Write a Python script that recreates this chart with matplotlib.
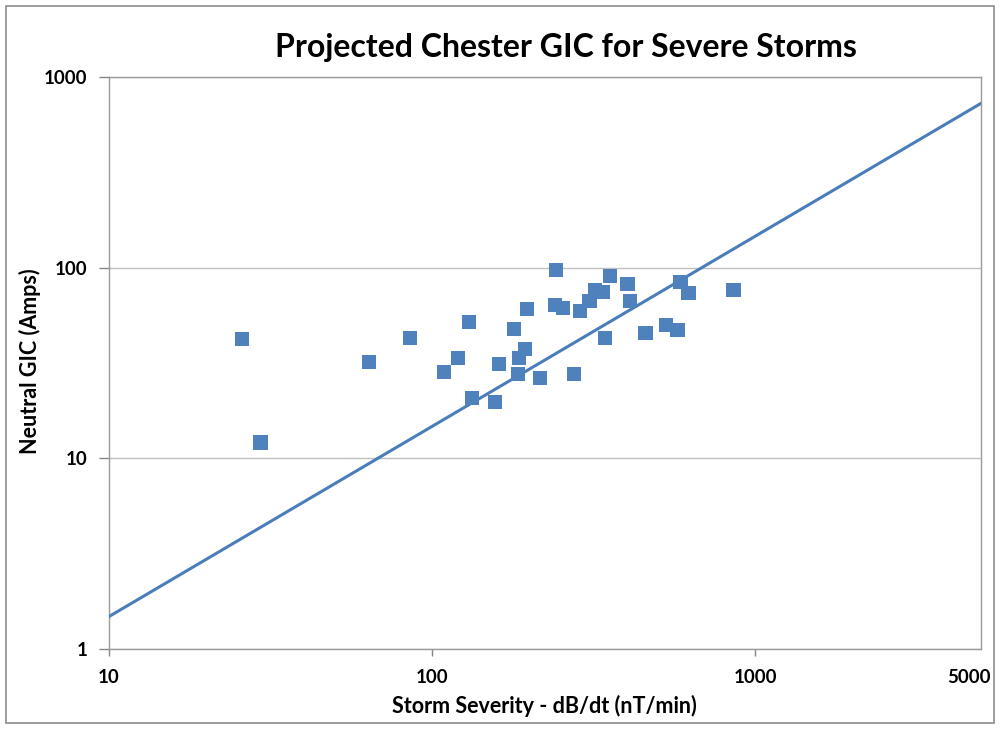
import matplotlib
matplotlib.use("Agg")
import matplotlib.pyplot as plt
import matplotlib.transforms as mtransforms
from matplotlib.patches import Rectangle

# Data
storm_dbdt = [25.9, 29.5, 63.9, 85.7, 109, 120.5, 130.4, 133.3, 157, 161.5,
              179.6, 184.8, 186, 194, 196.9, 216, 242, 240.5, 254.6, 275.4,
              287, 308, 319.7, 338, 355.6, 343, 403.6, 410, 459, 529.6,
              576.6, 589, 623.6, 859]
neutral_gic = [42.3, 12.1, 32.0, 42.8, 28.4, 33.6, 51.8, 20.7, 19.8, 31.3,
               47.6, 27.7, 33.6, 37.5, 60.7, 26.4, 97.2, 63.7, 61.4, 27.7,
               59.3, 66.9, 76.3, 74.5, 90.3, 42.8, 82.0, 66.9, 45.4, 50.0,
               47.1, 84.0, 73.6, 76.3]
projection_x = [10, 5000]
projection_y = [1.48, 725]

x_ticks = [10, 100, 1000, 5000]
x_tick_labels = ["10", "100", "1000", "5000"]
y_ticks = [1, 10, 100, 1000]
y_tick_labels = ["1", "10", "100", "1000"]

plt.rcParams['font.family'] = ['Lato', 'DejaVu Sans']

fig = plt.figure(figsize=(10, 7.29), dpi=100)
ax = fig.add_axes([0.1085, 0.1093, 0.981 - 0.1085, 0.8948 - 0.1093])

blue = "#4F81BD"
ax.plot(projection_x, projection_y, color="#4A7EBB", lw=2.2, zorder=3)
ax.scatter(storm_dbdt, neutral_gic, marker="s", s=110, color=blue,
           edgecolors="none", zorder=4)

ax.set_xscale("log")
ax.set_yscale("log")
ax.set_xlim(10, 5000)
ax.set_ylim(1, 1000)

ax.set_xticks(x_ticks)
ax.set_xticklabels(x_tick_labels)
ax.set_yticks(y_ticks)
ax.set_yticklabels(y_tick_labels)
ax.minorticks_off()
ax.tick_params(axis="x", direction="out", length=5, width=1, color="#868686",
               pad=9, labelsize=13.5)
ax.tick_params(axis="y", direction="out", length=7, width=1, color="#868686",
               pad=8, labelsize=13.5)
for lab in ax.get_xticklabels() + ax.get_yticklabels():
    lab.set_fontweight("bold")

# shift the last x label left so it stays inside the chart frame
last = ax.get_xticklabels()[-1]
last.set_transform(last.get_transform() +
                   mtransforms.ScaledTranslation(-12 / 100, 0, fig.dpi_scale_trans))
ax.get_xticklines()[-2].set_visible(False)

ax.yaxis.grid(True, color="#BFBFBF", lw=1)
ax.xaxis.grid(False)
ax.set_axisbelow(True)
for sp in ax.spines.values():
    sp.set_color("#9A9A9A")
    sp.set_linewidth(1)

ax.set_xlabel("Storm Severity - dB/dt (nT/min)", fontsize=15.5, fontweight="bold",
              va="center")
ax.xaxis.set_label_coords(0.5, -0.099)
ax.set_ylabel("Neutral GIC (Amps)", fontsize=15.5, fontweight="bold", va="center")
ax.yaxis.set_label_coords(-0.09, 0.503)
fig.text(0.5655, 0.935, "Projected Chester GIC for Severe Storms", fontsize=23,
         fontweight="bold", ha="center", va="center")

fig.patches.append(Rectangle((0.006, 0.008), 0.988, 0.984, transform=fig.transFigure,
                             fill=False, edgecolor="#8C8C8C", lw=1.2))

fig.savefig("out.png", dpi=100)
